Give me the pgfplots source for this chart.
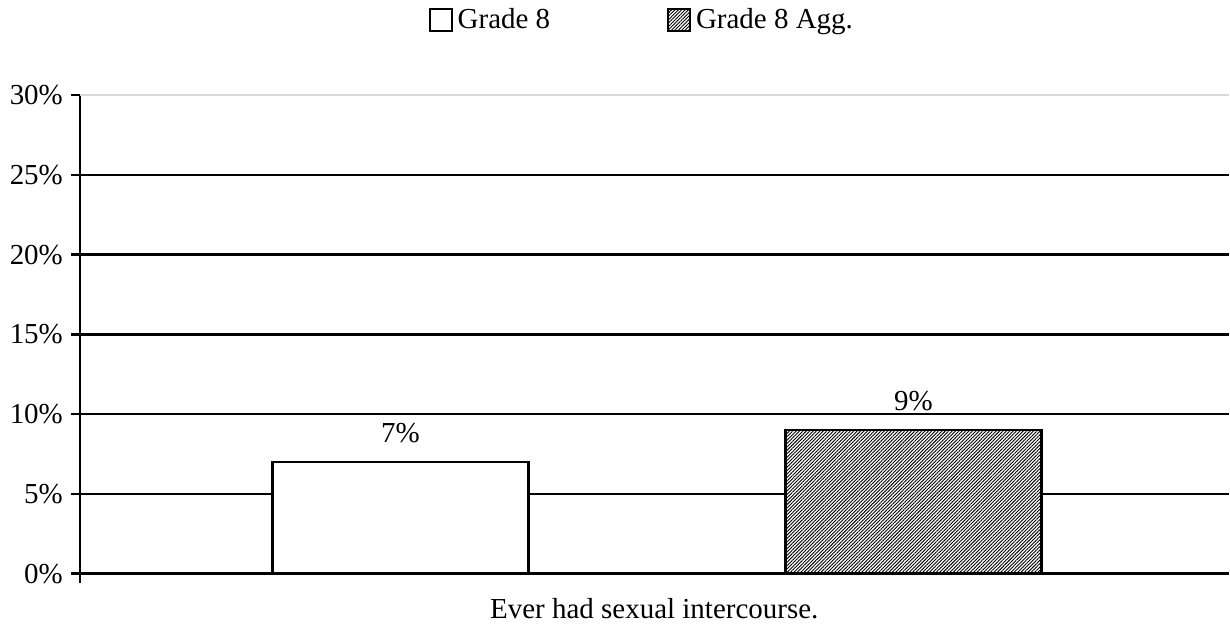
\documentclass[border=0pt]{standalone}
\usepackage{pgfplots}
\pgfplotsset{compat=1.18}
\usepackage{fontspec}
\setmainfont{Liberation Serif}
\usetikzlibrary{patterns.meta}
\begin{document}
\fontsize{14.5pt}{17pt}\selectfont
\begin{tikzpicture}
\begin{axis}[
 scale only axis, width=575pt, height=239.5pt,
 xmin=80, xmax=1230, ymin=0, ymax=30,
 axis x line=bottom, axis y line=left,
 axis line style={-, line width=1.4pt},
 ytick={0,5,...,25},
 extra y ticks={30}, extra y tick labels={30\%},
 extra y tick style={grid style={gray!30, line width=0.8pt}},
 ymajorgrids, grid style={black, line width=1.3pt},
 xtick={80}, xticklabels={},
 tick align=outside, major tick length=4.5pt,
 tick style={black, line width=1.3pt},
 yticklabel={\pgfmathprintnumber{\tick}\%},
 yticklabel style={xshift=1pt},
 /pgf/number format/assume math mode=true,
 ybar, bar shift=0pt, bar width=256,
 nodes near coords={\pgfmathprintnumber{\pgfplotspointmeta}\%},
 nodes near coords style={anchor=south, inner sep=0pt, yshift=9pt, font=\fontsize{14.5pt}{17pt}\selectfont, /pgf/number format/assume math mode=true},
 xlabel={Ever had sexual intercourse.},
 xlabel style={at={(axis description cs:0.5,0)}, anchor=base, yshift=-22.5pt, font=\fontsize{14.5pt}{17pt}\selectfont},
 legend columns=2,
 legend style={draw=none, at={(0.4905,1)}, anchor=center, yshift=37.5pt, font=\fontsize{14.5pt}{17pt}\selectfont, /tikz/every even column/.append style={column sep=56pt}, /tikz/every odd column/.append style={}, nodes={inner xsep=2.5pt}},
 legend image code/.code={\draw[#1, line width=1pt] (0pt,-5.5pt) rectangle (11pt,5.5pt);},
]
\addplot[fill=white, draw=black, line width=1.3pt] coordinates {(401,7)};
\addlegendentry{Grade 8}
\addplot[fill=white, draw=black, line width=1.3pt, postaction={pattern={Lines[angle=45,distance=1.2pt,line width=0.45pt]}}] coordinates {(914.5,9)};
\addlegendentry{Grade 8 Agg.}
\end{axis}
\path (current axis.south west) ++(-40pt,-28.5pt);
\path (current axis.north east) ++(0pt,46.5pt);
\end{tikzpicture}
\end{document}
